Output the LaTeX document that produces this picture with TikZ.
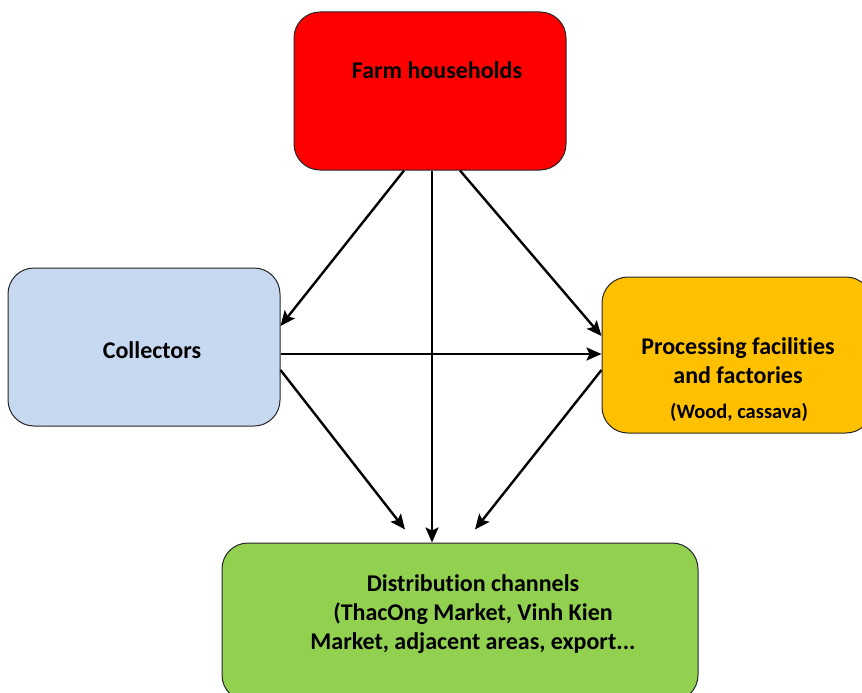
\documentclass[tikz,border=0pt]{standalone}
\usepackage{fontspec}
\setmainfont[Ligatures=NoCommon]{Carlito}
\usetikzlibrary{arrows.meta}
\definecolor{farmred}{RGB}{255,0,0}
\definecolor{collblue}{RGB}{198,217,240}
\definecolor{procgold}{RGB}{255,192,0}
\definecolor{distgreen}{RGB}{146,208,80}
\tikzset{
  box/.style={draw=black!85, line width=1pt, rounded corners=26pt, inner sep=0pt},
  lbl/.style={font=\bfseries\fontsize{24}{29}\selectfont, align=center, text=black},
  flow/.style={line width=2.4pt, -{Stealth[length=15pt,width=13pt,inset=3pt]}}
}
\begin{document}
\begin{tikzpicture}[x=1pt,y=-1pt]
  \useasboundingbox (0,0) rectangle (862,693);
  % boxes
  \node[box, fill=farmred, minimum width=272pt, minimum height=158pt] (farm) at (430,91) {};
  \node[box, fill=collblue, minimum width=272pt, minimum height=158pt] (coll) at (144,347) {};
  \node[box, fill=procgold, minimum width=270pt, minimum height=156pt] (proc) at (737,355) {};
  \node[box, fill=distgreen, minimum width=476pt, minimum height=158pt] (dist) at (460,622) {};
  % labels
  \node[lbl] (farmtxt) at (437,70) {Farm households};
  \node[lbl] (colltxt) at (152,350) {Collectors};
  \node[lbl] (proctxt) at (738,361) {Processing facilities\\and factories};
  \node[lbl, font=\bfseries\fontsize{20.5}{24}\selectfont] (procsub) at (739,412) {(Wood, cassava)};
  \node[lbl] (disttxt) at (473,614) {Distribution channels\\(ThacOng Market, Vinh Kien\\Market, adjacent areas, export...};
  % flows
  \draw[flow] ([xshift=-26pt]farm.south) -- ([yshift=21pt]coll.east);
  \draw[flow] ([xshift=2pt]farm.south) -- ([xshift=-28pt]dist.north);
  \draw[flow] ([xshift=30pt]farm.south) -- ([yshift=19pt]proc.west);
  \draw[flow] ([yshift=-7pt]coll.east) -- ([yshift=1pt]proc.west);
  \draw[flow] ([yshift=-23pt]coll.east) -- ([xshift=-55pt,yshift=13pt]dist.north);
  \draw[flow] ([yshift=-15pt]proc.west) -- ([xshift=15pt,yshift=13pt]dist.north);
\end{tikzpicture}
\end{document}
